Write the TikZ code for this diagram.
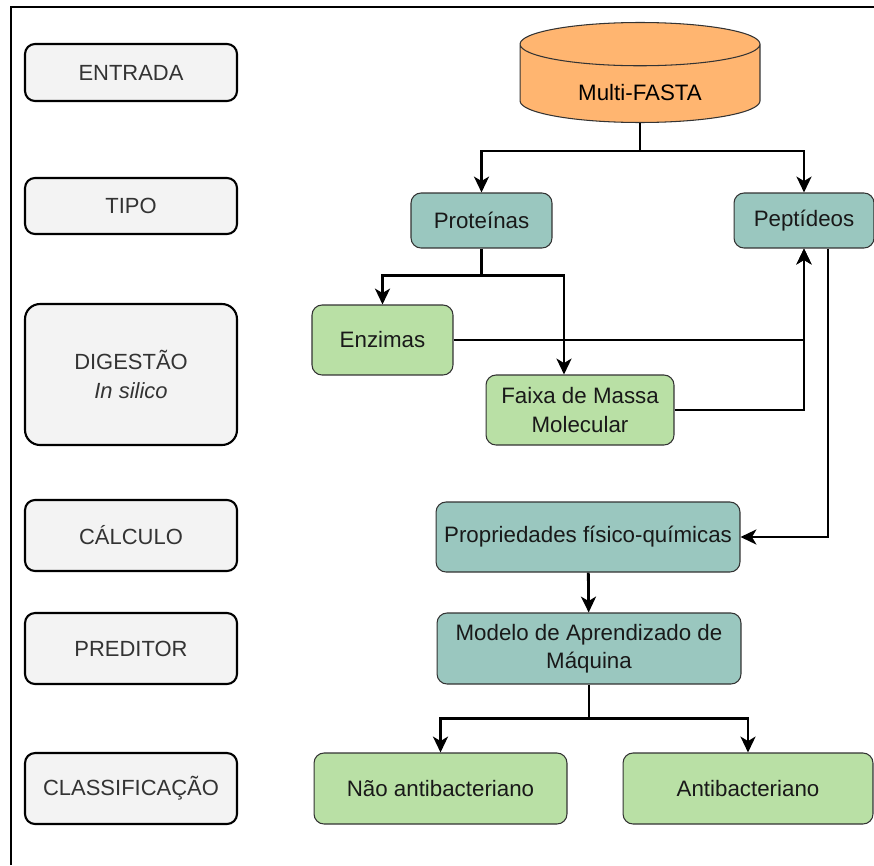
\documentclass[tikz,border=0pt]{standalone}
\usepackage{fontspec}
\setmainfont{Liberation Sans}
\usetikzlibrary{arrows.meta, shapes.geometric}

\definecolor{stagegray}{HTML}{F3F3F3}
\definecolor{tealbox}{HTML}{9AC7BF}
\definecolor{greenbox}{HTML}{B9E0A5}
\definecolor{orangedb}{HTML}{FFB570}
\definecolor{edgegray}{HTML}{333333}

\tikzset{
  stage/.style = {draw, line width=1.2pt, rounded corners=0.2cm, fill=stagegray,
                  text=edgegray, minimum width=4.24cm, minimum height=1.42cm,
                  inner sep=0pt, align=center,
                  font=\fontsize{12.5}{16}\selectfont},
  proc/.style  = {draw=edgegray, line width=0.6pt, rounded corners=0.2cm,
                  inner sep=0pt, align=center, text=black!90,
                  font=\fontsize{12.7}{16}\selectfont},
  arr/.style   = {line width=1.6pt, -{Stealth[length=9pt, width=8.5pt, inset=2.5pt]}},
  wire/.style  = {line width=1.6pt}
}

\begin{document}
\begin{tikzpicture}[x=0.02cm, y=-0.02cm]

\useasboundingbox (0,0) rectangle (874,865);

% frame
\draw[line width=1.3pt] (11,865) -- (11,7) -- (874,7);

% stages on the left
\node[stage, minimum height=1.14cm] (entrada) at (131, 72.5) {ENTRADA};
\node[stage, minimum height=1.12cm] (tipo) at (131, 206) {TIPO};
\node[stage, minimum height=2.82cm, rounded corners=0.3cm] (digestao) at (131, 374.5) {DIGESTÃO\\\textit{In silico}};
\node[stage] (calculo) at (131, 535.5) {CÁLCULO};
\node[stage] (preditor) at (131, 648.5) {PREDITOR};
\node[stage] (classif) at (131, 788.5) {CLASSIFICAÇÃO};

% input
\node[cylinder, shape border rotate=90, aspect=0.35, draw=edgegray, line width=0.6pt,
      fill=orangedb, minimum width=4.8cm, minimum height=2cm, inner sep=0pt,
      anchor=shape center, font=\fontsize{12.7}{16}\selectfont] (multi) at (640, 72.5)
      {\raisebox{-0.33cm}[0pt][0pt]{Multi-FASTA}};

% type
\node[proc, fill=tealbox, minimum width=2.82cm, minimum height=1.1cm] (prot) at (481.5, 220.5) {Proteínas};
\node[proc, fill=tealbox, minimum width=2.8cm, minimum height=1.1cm] (pep) at (804, 220.5) {Peptídeos};

% digestion
\node[proc, fill=greenbox, minimum width=2.82cm, minimum height=1.4cm] (enz) at (382.5, 340) {Enzimas};
\node[proc, fill=greenbox, minimum width=3.76cm, minimum height=1.4cm] (faixa) at (580, 410) {Faixa de Massa\\Molecular};

% calculation and predictor
\node[proc, fill=tealbox, minimum width=6.08cm, minimum height=1.4cm] (prop) at (588, 537) {Propriedades físico-químicas};
\node[proc, fill=tealbox, minimum width=6.08cm, minimum height=1.42cm] (modelo) at (589, 648.5) {Modelo de Aprendizado de\\Máquina};

% classes
\node[proc, fill=greenbox, minimum width=5.06cm, minimum height=1.42cm] (nao) at (440.5, 788.5) {Não antibacteriano};
\node[proc, fill=greenbox, minimum width=5.0cm, minimum height=1.42cm] (anti) at (748, 788.5) {Antibacteriano};

% connectors
\draw[wire] (multi.south) -- ++(0,28) coordinate (split1);
\draw[arr] (split1) -| (prot);
\draw[arr] (split1) -| (pep);

\draw[wire] (prot.south) -- ++(0,27) coordinate (split2);
\draw[arr] (split2) -| (enz);
\draw[arr] (split2) -| ([xshift=-0.32cm]faixa.north);

\draw[arr] (enz.east) -| (pep.south);
\draw[arr] (faixa.east) -| (pep.south);

\draw[arr] ([xshift=0.48cm]pep.south) |- (prop.east);
\draw[arr] (prop) -- (modelo);

\draw[wire] (modelo.south) -- ++(0,34) coordinate (split3);
\draw[arr] (split3) -| (nao);
\draw[arr] (split3) -| (anti);

\end{tikzpicture}
\end{document}
